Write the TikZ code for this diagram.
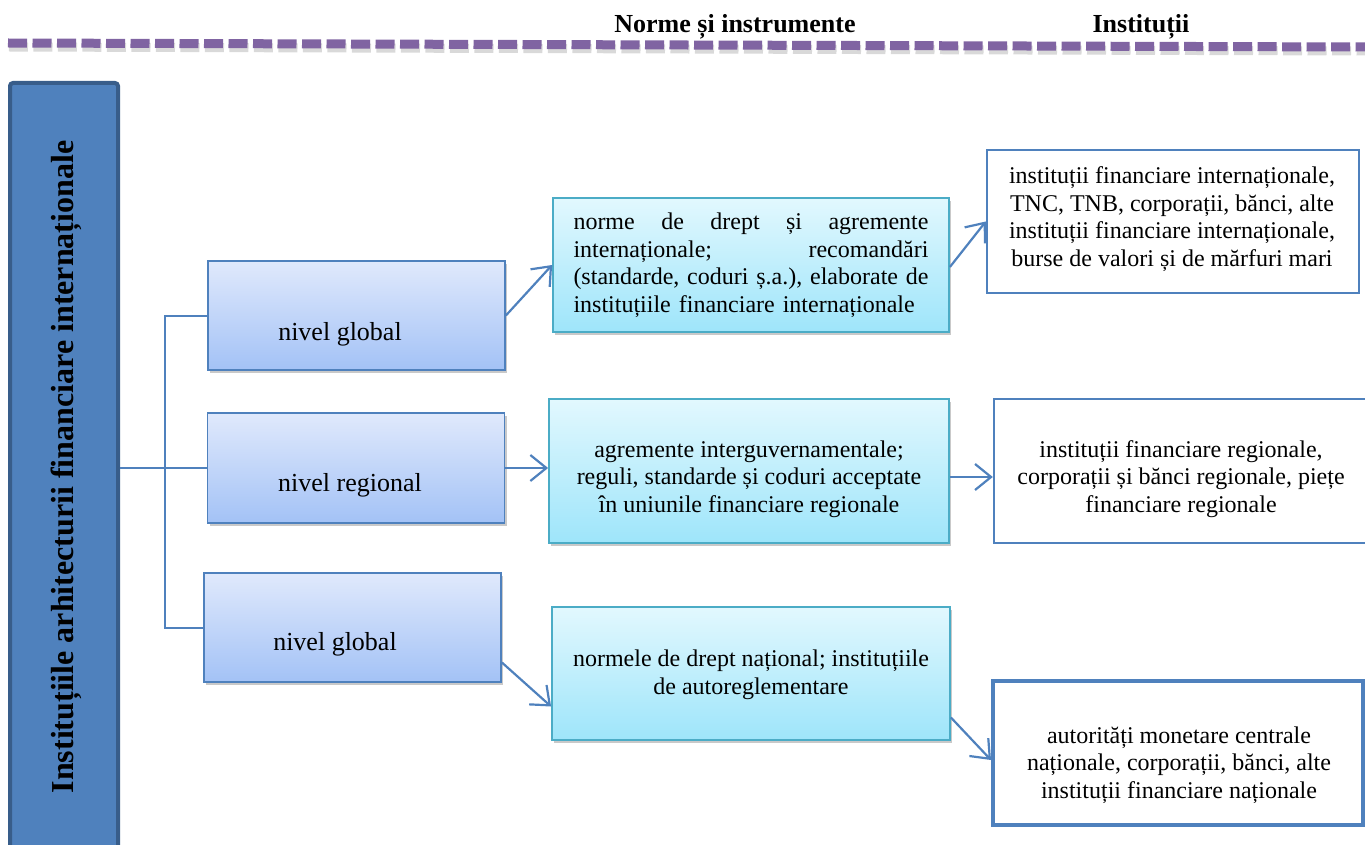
\documentclass[tikz,border=0pt]{standalone}
\usepackage{fontspec}
\setmainfont{Liberation Serif}
\usetikzlibrary{arrows.meta,shadows,calc}

\definecolor{accent}{RGB}{79,129,189}
\definecolor{accentdark}{RGB}{56,93,138}
\definecolor{purpleline}{RGB}{128,100,162}
\definecolor{leveltop}{RGB}{224,233,252}
\definecolor{levelbot}{RGB}{163,194,246}
\definecolor{normtop}{RGB}{226,248,254}
\definecolor{normbot}{RGB}{158,229,250}
\definecolor{normborder}{RGB}{75,172,198}

\newcommand{\spreadline}[1]{\leavevmode\hbox to 355pt{#1}}

\tikzset{
  softshadow/.style={drop shadow={shadow xshift=2pt, shadow yshift=-3pt, opacity=0.3, fill=black!70}},
  levelbox/.style={draw=accent, line width=1.8pt, top color=leveltop, bottom color=levelbot,
    inner sep=0pt, minimum width=297pt, minimum height=109pt, softshadow},
  normbox/.style={draw=normborder, line width=1.8pt, top color=normtop, bottom color=normbot,
    inner sep=0pt, softshadow},
  instbox/.style={draw=accent, line width=2.4pt, fill=white, inner sep=0pt},
  bodytext/.style={font=\fontsize{24pt}{27.5pt}\selectfont, align=center, inner sep=0pt},
  leveltext/.style={font=\fontsize{26pt}{30pt}\selectfont, inner sep=0pt, anchor=base},
  header/.style={font=\bfseries\fontsize{26pt}{30pt}\selectfont, inner sep=0pt, anchor=base},
  link/.style={draw=accent, line width=2pt},
  conn/.style={draw=accent, line width=2.2pt, -{Straight Barb[length=16pt,width=26pt]}},
  divider/.style={line width=9pt, dash pattern=on 19pt off 5.5pt},
}

\begin{document}
\begin{tikzpicture}[x=1pt, y=-1pt]
\useasboundingbox (0,0) rectangle (1365,845);
\clip (0,0) rectangle (1365,845);

% dashed divider with its soft shadow
\draw[divider, gray, opacity=0.3] (9,47) -- (1366,51);
\draw[divider, purpleline] (8,43) -- (1365,47);

% column headers
\node[header] (hnorms) at (735,33) {Norme și instrumente};
\node[header] (hinst) at (1141,33) {Instituții};

% left title bar
\node[draw=accentdark, line width=4pt, fill=accent, rounded corners=3pt,
      minimum width=108pt, minimum height=800pt, inner sep=0pt] (bar) at (64,483) {};
\node[rotate=90, font=\bfseries\fontsize{32pt}{36pt}\selectfont, inner sep=0pt] (bartitle) at (66,467)
  {Instituțiile arhitecturii financiare internaționale};

% level boxes
\node[levelbox] (l1) at (356.5,315.5) {};
\node[levelbox, minimum height=110pt] (l2) at (356,468) {};
\node[levelbox] (l3) at (352.5,627.5) {};
\node[leveltext] (l1t) at (340,340) {nivel global};
\node[leveltext] (l2t) at (350,491) {nivel regional};
\node[leveltext] (l3t) at (335,650) {nivel global};

% norms and instruments
\node[normbox, minimum width=396pt, minimum height=134pt] (m1) at (751,265) {};
\node[normbox, minimum width=400pt, minimum height=144pt] (m2) at (749,471) {};
\node[normbox, minimum width=398pt, minimum height=133pt] (m3) at (751,673.5) {};
\node[bodytext, align=left, text width=355pt] (m1t) at (751,265) {%
  \spreadline{norme\hfill de\hfill drept\hfill și\hfill agremente}\\
  \spreadline{internaționale;\hfill recomandări}\\
  \spreadline{(standarde,\hfill coduri\hfill ș.a.),\hfill elaborate\hfill de}\\
  instituțiile financiare internaționale};
\node[bodytext] (m2t) at (749,479) {agremente interguvernamentale;\\
  reguli, standarde și coduri acceptate\\ în uniunile financiare regionale};
\node[bodytext] (m3t) at (751,675) {normele de drept național; instituțiile\\ de autoreglementare};

% institutions
\node[instbox, minimum width=372pt, minimum height=143pt] (r1) at (1173,221.5) {};
\node[instbox, minimum width=374pt, minimum height=144pt] (r2) at (1181,471) {};
\node[instbox, line width=4pt, minimum width=370pt, minimum height=144pt] (r3) at (1178,753) {};
\node[bodytext] (r1t) at (1172,219) {instituții financiare internaționale,\\
  TNC, TNB, corporații, bănci, alte\\ instituții financiare internaționale,\\
  burse de valori și de mărfuri mari};
\node[bodytext] (r2t) at (1181,479) {instituții financiare regionale,\\
  corporații și bănci regionale, piețe\\ financiare regionale};
\node[bodytext] (r3t) at (1179,765) {autorități monetare centrale\\
  naționale, corporații, bănci, alte\\ instituții financiare naționale};

% bracket from the title bar to the levels
\coordinate (spine) at (165,0);
\draw[link] (l1.west) -- (l1.west -| spine) -- (l3.west -| spine) -- (l3.west);
\draw[link] (bar.east |- l2.west) -- (l2.west);

% arrows between columns
\draw[conn] (l1.east) -- (m1.west);
\draw[conn] (l2.east) -- (l2.east -| m2.west);
\draw[conn] ([yshift=-35pt]l3.east) -- ([yshift=-33pt]m3.west);
\draw[conn] ([yshift=-2pt]m1.east) -- (r1.west);
\draw[conn] ([yshift=-6pt]m2.east) -- ([yshift=-6pt]m2.east -| r2.west);
\draw[conn] ([yshift=-44pt]m3.east) -- ([yshift=-7pt]r3.west);
\end{tikzpicture}
\end{document}
